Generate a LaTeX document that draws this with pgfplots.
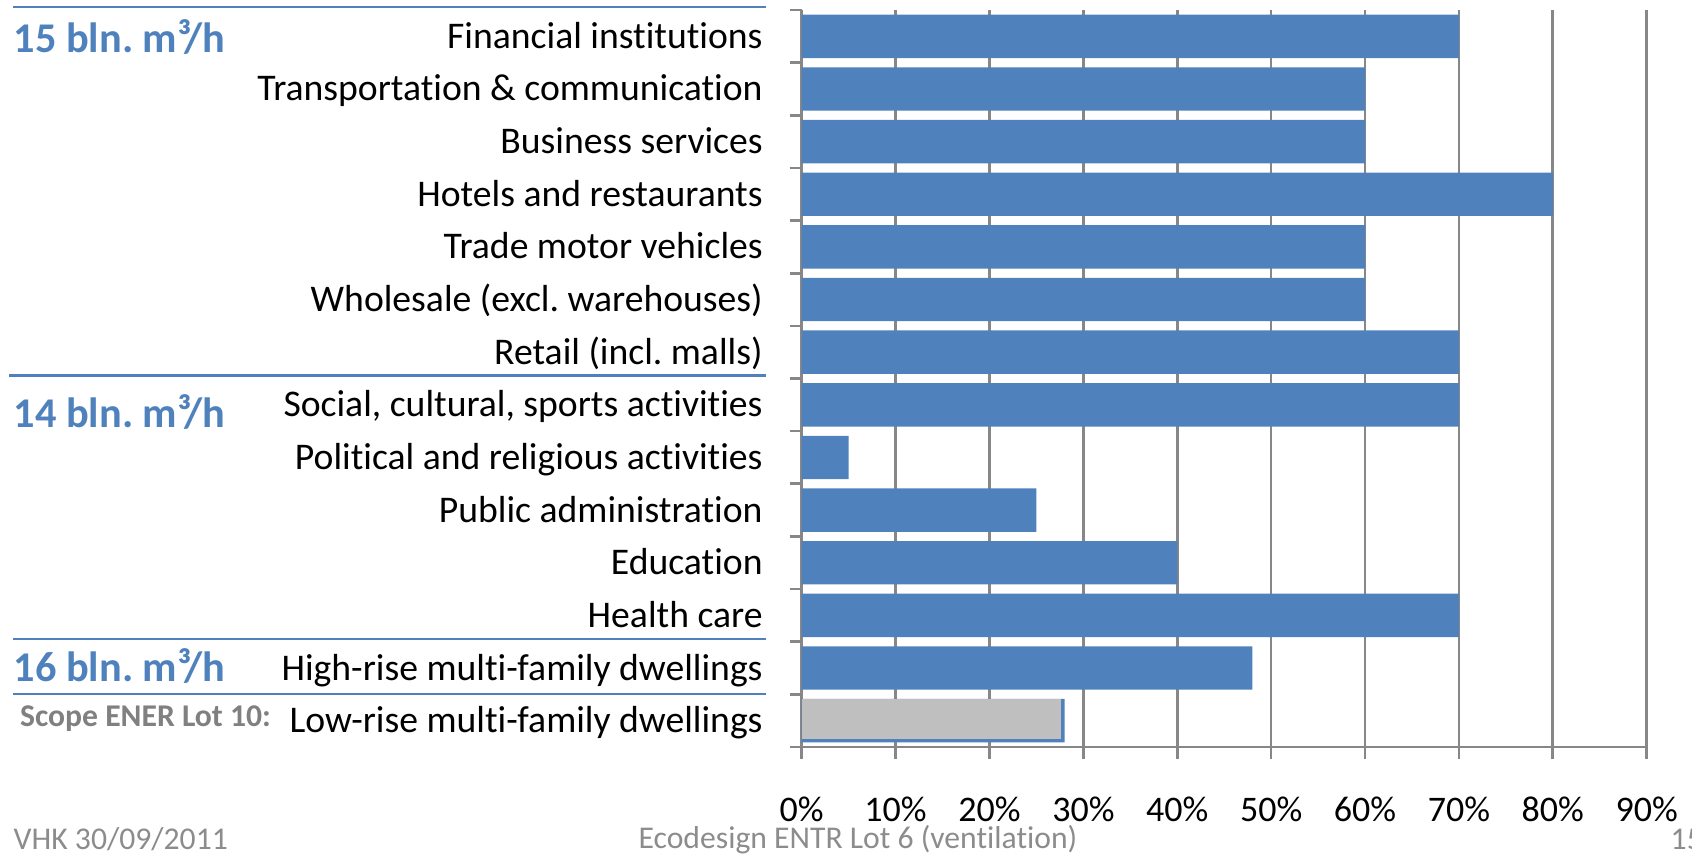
\documentclass[border=0pt]{standalone}
\usepackage{pgfplots}
\pgfplotsset{compat=1.18}
\usepackage{fontspec}
\setmainfont{Carlito}[Ligatures=NoCommon]
\definecolor{barblue}{HTML}{4F81BD}
\definecolor{bargray}{HTML}{BFBFBF}
\definecolor{gridgray}{HTML}{878787}
\definecolor{foot}{HTML}{8C8C8C}
\definecolor{scopegray}{HTML}{808080}
\begin{document}
\frenchspacing
\begin{tikzpicture}
\useasboundingbox (0pt,0pt) rectangle (507.6pt,257.1pt);
\begin{axis}[
  at={(240.51pt,33pt)}, anchor=south west,
  scale only axis, width=253.5pt, height=221.1pt,
  xmin=0, xmax=90, ymin=-0.5, ymax=13.5,
  axis x line*=bottom, axis y line*=left,
  axis line style={draw=gridgray, line width=0.8pt},
  xmajorgrids, grid style={draw=gridgray, line width=0.8pt},
  xtick={0,10,...,90},
  xticklabels={0\%,10\%,20\%,30\%,40\%,50\%,60\%,70\%,80\%,90\%},
  xtick style={draw=gridgray, line width=0.8pt},
  tick align=outside, major tick length=3.6pt, minor tick length=3.6pt,
  ytick={0,...,13},
  yticklabels={Low-rise multi-family dwellings, High-rise multi-family dwellings, Health care, Education, Public administration, Political and religious activities, {Social, cultural, sports activities}, Retail (incl. malls), Wholesale (excl. warehouses), Trade motor vehicles, Hotels and restaurants, Business services, Transportation \& communication, Financial institutions},
  minor ytick={-0.5,0.5,...,13.5},
  major y tick style={draw=none},
  minor y tick style={draw=gridgray, line width=0.8pt},
  xticklabel style={font=\fontsize{10.8}{12}\selectfont, anchor=center, inner sep=0pt, yshift=-15pt},
  yticklabel style={font=\fontsize{11.3}{13}\selectfont, anchor=east, xshift=-4.6pt, text height=9.7pt, text depth=2.5pt},
  xbar, bar width=0.824,
  clip=false,
]
\addplot[fill=barblue, draw=none, bar shift=0pt] coordinates {
 (70,13) (60,12) (60,11) (80,10) (60,9) (60,8) (70,7)
 (70,6) (5,5) (25,4) (40,3) (70,2) (48,1) (28,0)
};
\addplot[fill=bargray, draw=none, bar shift=0.6pt, bar width=0.76] coordinates {
 (27.6,0)
};
\end{axis}
\begin{scope}[x=0.3pt,y=0.3pt]
% separator lines
\draw[barblue, line width=0.75pt] (13,850) -- (766,850);
\draw[barblue, line width=0.75pt] (9,481.5) -- (766,481.5);
\draw[barblue, line width=0.75pt] (13,218) -- (766,218);
\draw[barblue, line width=0.75pt] (13,163) -- (766,163);
% group labels
\node[anchor=west, inner sep=0, text=barblue, font=\fontsize{12.7}{14}\selectfont\bfseries] at (13,820) {15 bln. m³/h};
\node[anchor=west, inner sep=0, text=barblue, font=\fontsize{12.7}{14}\selectfont\bfseries] at (13,445) {14 bln. m³/h};
\node[anchor=west, inner sep=0, text=barblue, font=\fontsize{12.7}{14}\selectfont\bfseries] at (13,191) {16 bln. m³/h};
\node[anchor=west, inner sep=0, text=scopegray, font=\fontsize{9.5}{11}\selectfont\bfseries] at (19.4,138) {Scope ENER Lot 10:};
% footer
\node[anchor=west, inner sep=0, text=foot, font=\fontsize{9.5}{11}\selectfont] at (13,17.5) {VHK 30/09/2011};
\node[anchor=center, inner sep=0, text=foot, font=\fontsize{9.5}{11}\selectfont] at (858,17.5) {Ecodesign ENTR Lot 6 (ventilation)};
\node[anchor=west, inner sep=0, text=foot, font=\fontsize{9.5}{11}\selectfont] at (1670,17.5) {15};
\end{scope}
\end{tikzpicture}
\end{document}
